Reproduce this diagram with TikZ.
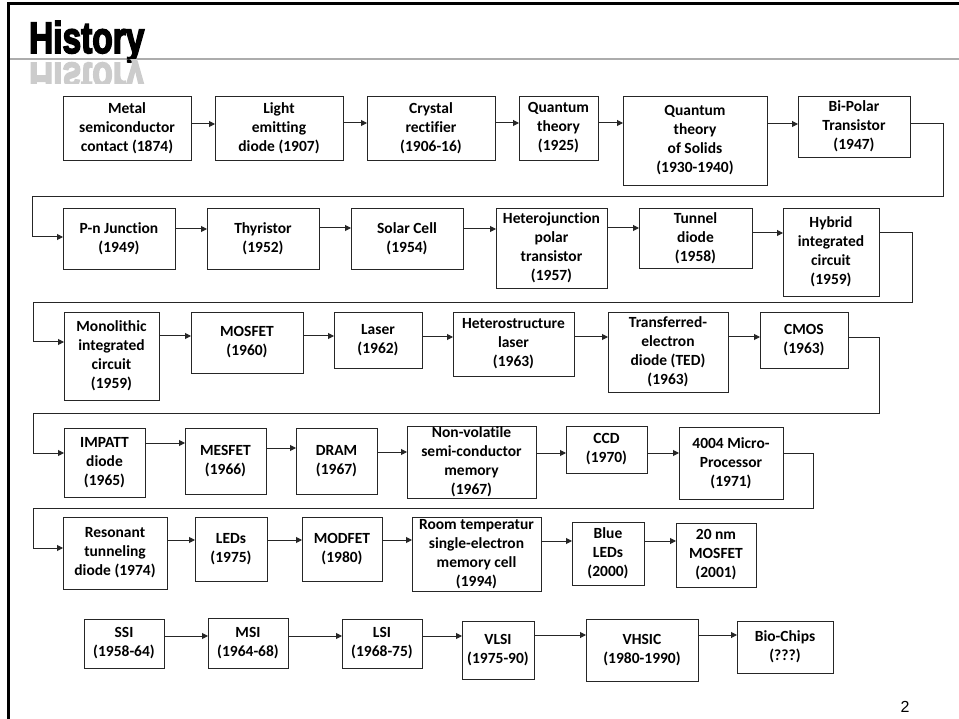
\documentclass[tikz,border=0pt]{standalone}
\usepackage{fontspec}
\setmainfont[Ligatures=NoCommon]{Carlito}
\newfontfamily\titlefont[BoldFeatures={FakeBold=4}]{Liberation Sans}
\newfontfamily\pgfont{Liberation Sans}
\usetikzlibrary{arrows.meta}
\tikzset{
  boxst/.style={draw=black!85, line width=0.9pt, inner sep=0pt, outer sep=0pt},
  txtst/.style={align=center, inner sep=0pt, font=\bfseries\fontsize{15.5}{19}\selectfont},
  arr/.style={draw=black!85, line width=1pt, -{Triangle[length=6pt,width=6pt]}},
  titlest/.style={anchor=base west, inner sep=0pt, transform shape, font=\titlefont\bfseries\fontsize{44}{44}\selectfont}
}
\newcommand\mybox[6]{%
  \node[boxst, minimum width={#4-#2}, minimum height={#5-#3}] (#1) at ({(#2+#4)/2},{(#3+#5)/2}) {};
  \node[txtst] (#1t) at (#1.center) {#6};
}
\newcommand\myarr[3]{%
  \coordinate (#1#2y) at (0,#3);
  \draw[arr] (#1.east |- #1#2y) -- (#2.west |- #1#2y);
}
\begin{document}
\begin{tikzpicture}[x=1pt,y=-1pt]
\useasboundingbox (0,0) rectangle (959,719);
% frame and title
\draw[gray!65, line width=2pt] (8,59) -- (959,59);
\draw[black, line width=3pt] (8,719) -- (8,4) -- (959,4);
\begin{scope}[shift={(29,53)}]
  \node[titlest, xscale=0.76] (title) at (0,0) {History};
\end{scope}
\begin{scope}
  \clip (20,60) rectangle (200,84);
  \begin{scope}[shift={(29,63)}]
    \node[titlest, xscale=0.76, yscale=-1, text=gray!40] (titleR) at (0,0) {History};
  \end{scope}
\end{scope}
\node[font=\pgfont\fontsize{16}{16}\selectfont, inner sep=0pt] (pg) at (905,707) {2};
% row 1
\mybox{A1}{63}{96}{191}{160}{Metal\\semiconductor\\contact (1874)}
\mybox{A2}{215}{96}{343}{160}{Light\\emitting\\diode (1907)}
\mybox{A3}{367}{96}{495}{160}{Crystal\\rectifier\\(1906-16)}
\mybox{A4}{519}{96}{598}{160}{Quantum\\theory\\(1925)}
\mybox{A5}{623}{96}{767}{185}{Quantum\\theory\\of Solids\\(1930-1940)}
\mybox{A6}{798}{96}{910}{157}{Bi-Polar\\Transistor\\(1947)}
\myarr{A1}{A2}{124}
\myarr{A2}{A3}{123}
\myarr{A3}{A4}{123}
\myarr{A4}{A5}{123}
\myarr{A5}{A6}{124}
% row 2
\mybox{B1}{63}{208}{175}{269}{P-n Junction\\(1949)}
\mybox{B2}{207}{208}{319}{269}{Thyristor\\(1952)}
\mybox{B3}{351}{208}{463}{269}{Solar Cell\\(1954)}
\mybox{B4}{496}{208}{607}{288}{Heterojunction\\polar\\transistor\\(1957)}
\mybox{B5}{639}{208}{752}{268}{Tunnel\\diode\\(1958)}
\mybox{B6}{783}{208}{879}{296}{Hybrid\\integrated\\circuit\\(1959)}
\myarr{B1}{B2}{229}
\myarr{B2}{B3}{228}
\myarr{B3}{B4}{229}
\myarr{B4}{B5}{228}
\myarr{B5}{B6}{233}
% row 3
\mybox{C1}{64}{312}{159}{400}{Monolithic\\integrated\\circuit\\(1959)}
\mybox{C2}{191}{312}{303}{373}{MOSFET\\(1960)}
\mybox{C3}{334}{312}{422}{368}{Laser\\(1962)}
\mybox{C4}{453}{312}{574}{376}{Heterostructure\\laser\\(1963)}
\mybox{C5}{608}{312}{728}{392}{Transferred-\\electron\\diode (TED)\\(1963)}
\mybox{C6}{760}{312}{848}{368}{CMOS\\(1963)}
\myarr{C1}{C2}{336}
\myarr{C2}{C3}{336}
\myarr{C3}{C4}{337}
\myarr{C4}{C5}{337}
\myarr{C5}{C6}{337}
% row 4
\mybox{D1}{64}{428}{145}{497}{IMPATT\\diode\\(1965)}
\mybox{D2}{185}{428}{266}{494}{MESFET\\(1966)}
\mybox{D3}{296}{428}{377}{494}{DRAM\\(1967)}
\mybox{D4}{407}{426}{536}{498}{Non-volatile\\semi-conductor\\memory\\(1967)}
\mybox{D5}{566}{426}{647}{473}{CCD\\(1970)}
\mybox{D6}{679}{427}{783}{499}{4004 Micro-\\Processor\\(1971)}
\myarr{D1}{D2}{443}
\myarr{D2}{D3}{448}
\myarr{D3}{D4}{452}
\myarr{D4}{D5}{453}
\myarr{D5}{D6}{453}
% row 5
\mybox{E1}{63}{517}{167}{589}{Resonant\\tunneling\\diode (1974)}
\mybox{E2}{195}{517}{267}{581}{LEDs\\(1975)}
\mybox{E3}{302}{517}{382}{581}{MODFET\\(1980)}
\mybox{E4}{412}{517}{541}{591}{Room temperatur\\single-electron\\memory cell\\(1994)}
\mybox{E5}{572}{522}{644}{585}{Blue\\LEDs\\(2000)}
\mybox{E6}{676}{523}{756}{587}{20 nm\\MOSFET\\(2001)}
\myarr{E1}{E2}{540}
\myarr{E2}{E3}{540}
\myarr{E3}{E4}{540}
\myarr{E4}{E5}{541}
\myarr{E5}{E6}{541}
% row 6
\mybox{F1}{84}{619}{164}{668}{SSI\\(1958-64)}
\mybox{F2}{208}{618}{288}{668}{MSI\\(1964-68)}
\mybox{F3}{342}{619}{422}{668}{LSI\\(1968-75)}
\mybox{F4}{462}{621}{534}{679}{VLSI\\(1975-90)}
\mybox{F5}{586}{619}{698}{681}{VHSIC\\(1980-1990)}
\mybox{F6}{737}{621}{833}{673}{Bio-Chips\\(???)}
\myarr{F1}{F2}{636}
\myarr{F2}{F3}{636}
\myarr{F3}{F4}{636}
\myarr{F4}{F5}{635}
\myarr{F5}{F6}{635}
% wrap connectors
\coordinate (w1s) at (0,124); \coordinate (w1a) at (943,197); \coordinate (w1b) at (32,237);
\draw[arr] (A6.east |- w1s) -| (w1a) -| (w1b) -- (B1.west |- w1b);
\coordinate (w2s) at (0,233); \coordinate (w2a) at (912,303); \coordinate (w2b) at (33,342);
\draw[arr] (B6.east |- w2s) -| (w2a) -| (w2b) -- (C1.west |- w2b);
\coordinate (w3s) at (0,338); \coordinate (w3a) at (879,413); \coordinate (w3b) at (33,453);
\draw[arr] (C6.east |- w3s) -| (w3a) -| (w3b) -- (D1.west |- w3b);
\coordinate (w4s) at (0,453); \coordinate (w4a) at (813,508); \coordinate (w4b) at (33,548);
\draw[arr] (D6.east |- w4s) -| (w4a) -| (w4b) -- (E1.west |- w4b);
\end{tikzpicture}
\end{document}
